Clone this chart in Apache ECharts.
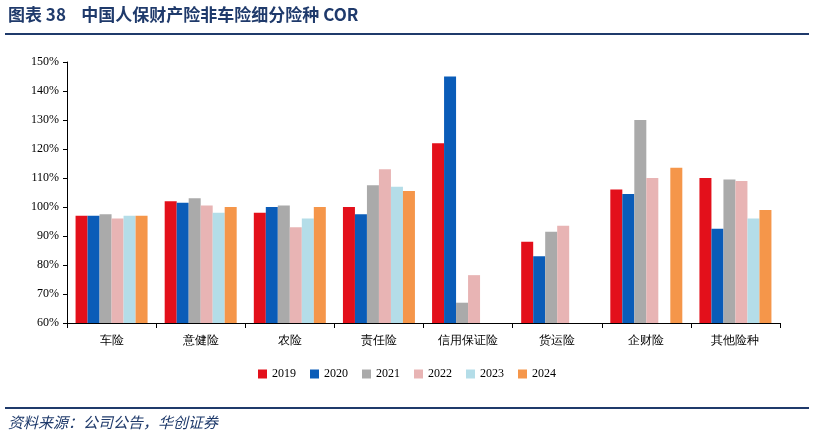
<!DOCTYPE html><html><head><meta charset="utf-8"><script src="https://cdn.jsdelivr.net/npm/echarts@6/dist/echarts.min.js"></script>
<style>body{margin:0;background:#fff}#c{width:814px;height:440px}</style></head><body><div id="c"></div><script>
const categories=['车险','意健险','农险','责任险','信用保证险','货运险','企财险','其他险种'];
const years=['2019','2020','2021','2022','2023','2024'];
const s2019=[97,102,98,100,122,88,106,110];
const s2020=[97,101.5,100,97.5,145,83,104.5,92.5];
const s2021=[97.5,103,100.5,107.5,67,91.5,130,109.5];
const s2022=[96,100.5,93,113,76.5,93.5,110,109];
const s2023=[97,98,96,107,null,null,null,96];
const s2024=[97,100,100,105.5,null,null,113.5,99];
const colors=['#e3101b','#0a5cb8','#aaaaaa','#e8b4b4','#b4dde8','#f5964a'];
const data=[s2019,s2020,s2021,s2022,s2023,s2024];
const c=echarts.init(document.getElementById('c'));
c.setOption({
animation:false,
graphic:[
{type:'text',left:8,top:6,style:{text:'图表 38    中国人保财产险非车险细分险种 COR',font:'bold 17px "Noto Sans CJK SC"',fill:'#1f3a6b'}},
{type:'rect',shape:{x:5,y:33,width:804,height:2},style:{fill:'#1f3a6b'}},
{type:'rect',shape:{x:5,y:407,width:804,height:2},style:{fill:'#1f3a6b'}},
{type:'text',left:8,top:415,style:{text:'资料来源：公司公告，华创证券',font:'italic 15px "Noto Sans CJK SC"',fill:'#1f3a6b'}}
],
legend:{bottom:55,itemWidth:9,itemHeight:9,itemGap:14,icon:'rect',textStyle:{fontSize:12,color:'#000',fontFamily:'Times New Roman, Liberation Serif'}},
grid:{left:67,right:34,top:62,bottom:117},
xAxis:{type:'category',data:categories,axisLine:{lineStyle:{color:'#000'}},axisTick:{show:true,length:5,lineStyle:{color:'#000'}},axisLabel:{color:'#000',fontSize:12,margin:12}},
yAxis:{type:'value',min:60,max:150,interval:10,splitLine:{show:false},axisLine:{show:true,lineStyle:{color:'#000'}},axisTick:{show:true,inside:false,length:4,lineStyle:{color:'#000'}},axisLabel:{color:'#000',fontSize:12,formatter:'{value}%',fontFamily:'Times New Roman, Liberation Serif'}},
series:years.map((y,i)=>({name:y,type:'bar',data:data[i],barWidth:12,barGap:'0%',itemStyle:{color:colors[i]}}))
});
</script></body></html>
